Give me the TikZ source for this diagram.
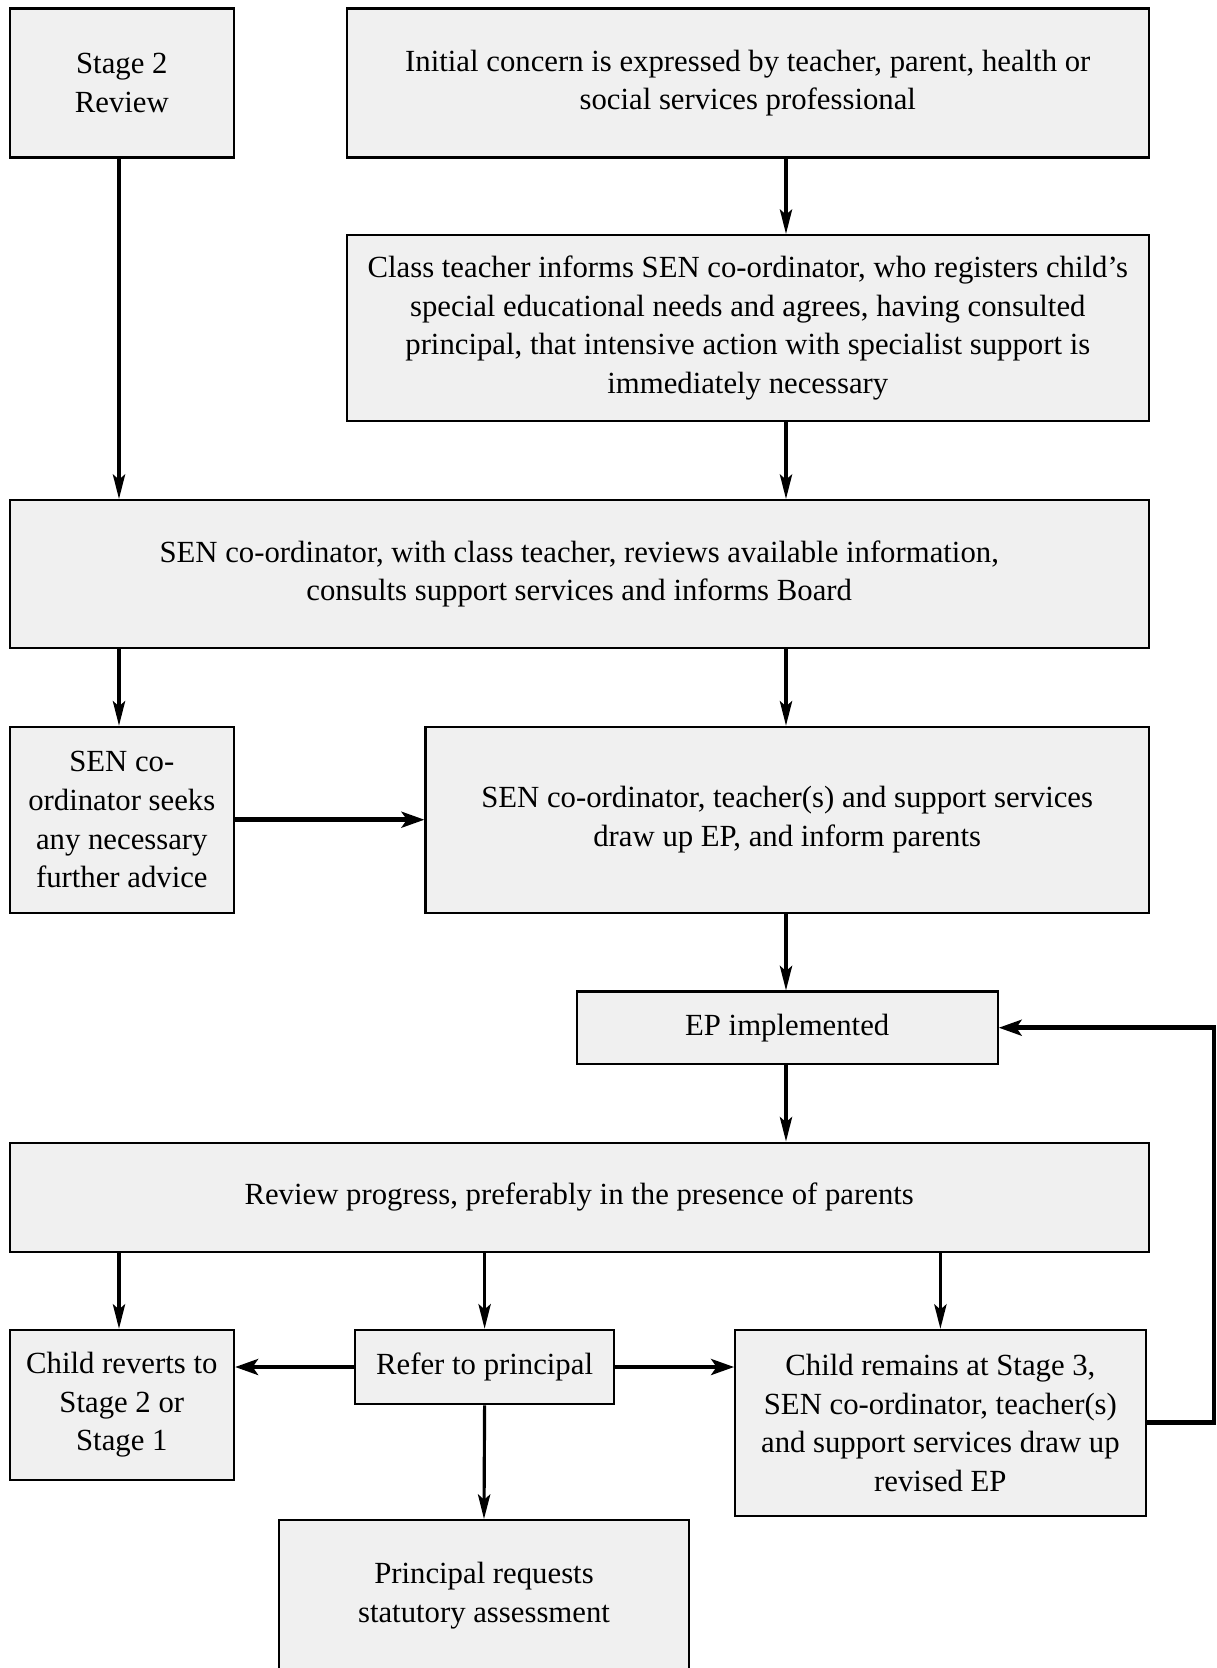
\documentclass[tikz,border=0pt]{standalone}
\usepackage{fontspec}
\setmainfont{Liberation Serif}
\usetikzlibrary{arrows.meta}
\begin{document}
\begin{tikzpicture}[auto, x=0.02cm, y=-0.02cm,
    stagebox/.style ={rectangle, draw, line width=1.2pt, fill=black!6, align=center,
      inner sep=0pt, font=\fontsize{17.5}{22}\selectfont},
    link/.style ={line width=1.8pt, -{Stealth[length=14pt, width=7pt, inset=3pt]}},
    fatlink/.style ={line width=2.8pt, -{Stealth[length=13pt, width=9pt, inset=3pt]}}]
   \useasboundingbox (0,0) rectangle (1217,1668);

   \coordinate (left)  at (119,0);
   \coordinate (right) at (786,0);

   \node[stagebox, minimum width=4.49cm, minimum height=2.98cm] (stage) at (121.8,83) {Stage 2\\Review};
   \node[stagebox, minimum width=16.04cm, minimum height=2.98cm] (concern) at (747.8,83)
     {Initial concern is expressed by teacher, parent, health or\\social services professional};
   \node[stagebox, minimum width=16.04cm, minimum height=3.72cm] (informs) at (747.8,328)
     {Class teacher informs SEN co-ordinator, who registers child’s\\special educational needs and agrees, having consulted\\principal, that intensive action with specialist support is\\immediately necessary};
   \node[stagebox, minimum width=22.79cm, minimum height=2.96cm] (reviews) at (579.2,574)
     {SEN co-ordinator, with class teacher, reviews available information,\\consults support services and informs Board};
   \node[stagebox, minimum width=4.49cm, minimum height=3.72cm] (seeks) at (121.8,819.7)
     {SEN co-\\ordinator seeks\\any necessary\\further advice};
   \node[stagebox, minimum width=14.47cm, minimum height=3.72cm] (drawup) at (787.2,819.7)
     {SEN co-ordinator, teacher(s) and support services\\draw up EP, and inform parents};
   \node[stagebox, minimum width=8.42cm, minimum height=1.45cm] (ep) at (787.2,1027.7) {EP implemented};
   \node[stagebox, minimum width=22.79cm, minimum height=2.19cm] (progress) at (579.2,1197.3)
     {Review progress, preferably in the presence of parents};
   \node[stagebox, minimum width=4.49cm, minimum height=3.0cm] (reverts) at (121.8,1404.8)
     {Child reverts to\\Stage 2 or\\Stage 1};
   \node[stagebox, minimum width=5.17cm, minimum height=1.49cm] (refer) at (484.6,1367) {Refer to principal};
   \node[stagebox, minimum width=8.21cm, minimum height=3.72cm] (remains) at (940.4,1422.9)
     {Child remains at Stage 3,\\SEN co-ordinator, teacher(s)\\and support services draw up\\revised EP};
   \node[stagebox, minimum width=8.21cm, minimum height=3.6cm] (principal) at (484,1610)
     {Principal requests\\statutory assessment\\[-1.5pt]\mbox{}};

   \coordinate (corner) at (1214,1422.9);

   \draw[link] (stage.south -| left) to (reviews.north -| left);
   \draw[link] (concern.south -| right) to (informs.north -| right);
   \draw[link] (informs.south -| right) to (reviews.north -| right);
   \draw[link] (reviews.south -| left) to (seeks.north -| left);
   \draw[link] (reviews.south -| right) to (drawup.north -| right);
   \draw[fatlink] (seeks.east) to (drawup.west);
   \draw[link] (drawup.south -| right) to (ep.north -| right);
   \draw[link] (ep.south -| right) to (progress.north -| right);
   \draw[link] (progress.south -| left) to (reverts.north -| left);
   \draw[link] (progress.south -| refer) to (refer.north);
   \draw[link] (progress.south -| remains) to (remains.north);
   \draw[fatlink] (refer.west) to (refer.west -| reverts.east);
   \draw[fatlink] (refer.east) to (refer.east -| remains.west);
   \draw[link] (refer.south) to (principal.north);
   \draw[fatlink] (remains.east) -- (corner) |- (ep.east);

 \end{tikzpicture}
\end{document}
